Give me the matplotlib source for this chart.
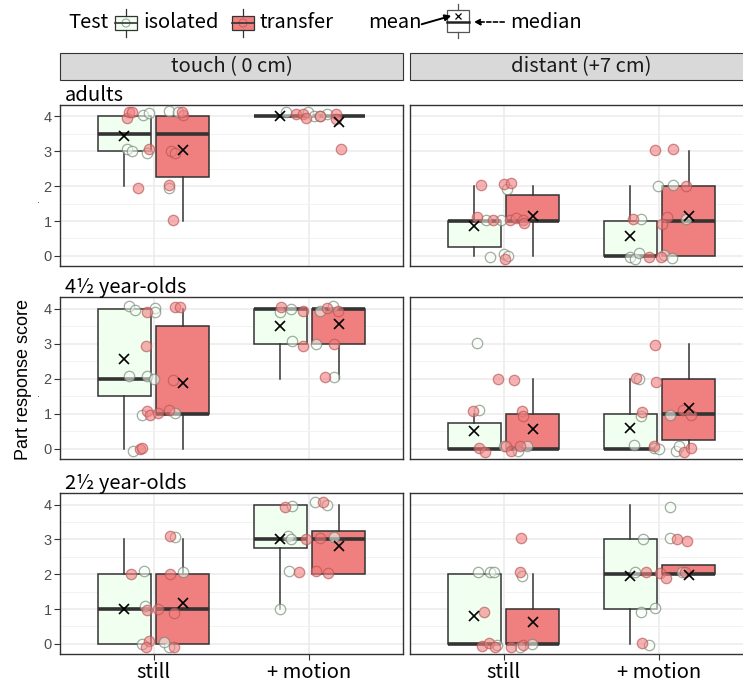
import matplotlib
matplotlib.use('Agg')
import matplotlib.pyplot as plt
from matplotlib.patches import Rectangle, Circle, FancyArrowPatch

# labels of the facets
rows = ['adults', '4½ year-olds', '2½ year-olds']
cols = ['touch ( 0 cm)', 'distant (+7 cm)']
cats = ['still', '+ motion']
tests = ['isolated', 'transfer']

# box statistics, order: row, column, category, test (24 boxes)
q1 = [3, 2.25, 4, 4,   0.25, 1, 0, 0,
      1.5, 1, 3, 3,    0, 0, 0, 0.25,
      0, 0, 2.75, 2,   0, 0, 1, 2]
med = [3.5, 3.5, 4, 4, 1, 1, 0, 1,
       2, 1, 4, 4,     0, 0, 0, 1,
       1, 1, 3, 3,     0, 0, 2, 2]
q3 = [4, 4, 4, 4,      1, 1.75, 1, 2,
      4, 3.5, 4, 4,    0.75, 1, 1, 2,
      2, 2, 4, 3.25,   2, 1, 3, 2.25]
whis_lo = [2, 1, 4, 4, 0, 0, 0, 0,
           0, 0, 2, 2, 0, 0, 0, 0,
           0, 0, 1, 2, 0, 0, 0, 2]
whis_hi = [4, 4, 4, 4, 2, 2, 2, 3,
           4, 4, 4, 4, 1, 2, 2, 3,
           3, 3, 4, 4, 2, 2, 4, 2.25]
means = [3.43, 3.05, 4.0, 3.85,  0.87, 1.15, 0.57, 1.15,
         2.55, 1.89, 3.49, 3.55, 0.51, 0.56, 0.59, 1.16,
         1.0, 1.16, 3.02, 2.8,   0.81, 0.62, 1.96, 1.98]

# individual scores (jitter, score), order: row, column, category (12 groups)
iso_points = [
    [(-0.065, 4.04), (-0.03, 4.1), (-0.17, 3.06), (-0.14, 3.0), (-0.04, 2.94), (0.10, 4.15), (0.16, 4.13), (0.10, 1.95)],
    [(-0.15, 4.13), (-0.01, 4.12), (0.03, 4.0), (0.11, 4.07), (0.07, 4.02)],
    [(0.02, 1.92), (-0.11, 1.02), (-0.017, 1.02), (-0.09, -0.02), (0.0, 0.06), (0.026, 0.0)],
    [(-0.01, 2.0), (0.086, 2.02), (-0.12, 1.06), (0.17, 1.06), (-0.19, -0.02), (-0.155, -0.1), (-0.13, 0.08), (0.03, 0.03), (0.08, -0.07)],
    [(-0.16, 4.08), (-0.12, 3.96), (0.01, 4.03), (0.01, 3.9), (-0.155, 2.08), (-0.04, 2.08), (0.0, 1.98), (-0.075, 0.96), (0.14, 1.01), (-0.13, -0.05)],
    [(-0.19, 3.89), (-0.12, 4.0), (-0.11, 3.08), (0.065, 3.93), (0.15, 4.08), (0.04, 3.0), (0.16, 2.05)],
    [(-0.17, 3.01), (-0.16, 1.1), (0.0, 0.07), (0.095, -0.05), (0.15, 0.07)],
    [(-0.13, 1.98), (-0.12, 0.93), (0.07, 0.96), (-0.165, 0.1), (-0.037, 0.02), (0.0, -0.01), (0.107, -0.05), (0.125, 0.09)],
    [(-0.06, 2.1), (-0.054, 1.08), (-0.075, 0.0), (0.097, -0.09), (0.14, 3.07), (0.19, 2.05), (0.065, 0.05)],
    [(-0.11, 3.96), (-0.14, 3.09), (-0.12, 3.02), (-0.13, 2.09), (-0.19, 0.99), (0.037, 4.06), (0.11, 3.98), (0.157, 3.07)],
    [(-0.163, 2.06), (-0.088, 2.06), (-0.06, 2.06), (0.116, 1.94), (-0.04, -0.03), (0.105, -0.1), (0.18, 0.01)],
    [(0.07, 3.93), (-0.107, 3.02), (0.065, 3.04), (-0.16, 2.06), (0.146, 2.07), (-0.116, 0.91), (-0.03, 1.02), (-0.065, -0.03)],
]
trn_points = [
    [(-0.17, 3.97), (-0.155, 4.12), (-0.14, 4.13), (-0.026, 3.08), (-0.10, 1.95), (0.11, 3.0), (0.14, 2.96), (0.10, 2.02), (0.125, 1.02), (0.19, 4.04), (0.18, 4.12)],
    [(-0.086, 4.08), (-0.04, 4.08), (-0.02, 3.97), (0.065, 4.0), (0.17, 4.07), (0.17, 3.94), (0.2, 3.08)],
    [(-0.146, 2.02), (0.0, 2.05), (0.047, 2.1), (-0.17, 1.12), (-0.067, 1.02), (0.04, 1.02), (0.077, 1.09), (0.127, 1.04), (0.133, 0.94), (0.01, -0.1)],
    [(-0.03, 3.03), (0.086, 3.08), (0.17, 2.0), (-0.17, 1.06), (0.05, 1.13), (0.017, 0.92), (-0.07, -0.02), (0.013, -0.04)],
    [(-0.04, 3.9), (-0.05, 2.94), (-0.04, 1.08), (-0.02, 0.96), (0.03, 1.01), (0.1, 1.1), (0.125, 1.97), (0.135, 4.05), (0.17, 4.05), (-0.09, 0.0), (-0.075, 0.02)],
    [(-0.18, 4.05), (-0.04, 3.92), (-0.04, 2.92), (0.11, 4.03), (0.18, 3.92), (0.16, 3.0), (0.1, 2.05)],
    [(-0.196, 1.07), (-0.034, 2.0), (0.07, 1.95), (0.12, 1.07), (0.127, 0.93), (-0.16, 0.02), (-0.12, -0.08), (0.013, 0.08), (0.047, -0.05), (0.105, 0.07)],
    [(-0.03, 2.96), (-0.15, 2.02), (-0.02, 1.92), (-0.11, 1.05), (0.15, 1.1), (0.2, 0.96), (-0.037, 0.09), (0.16, -0.09), (0.2, 0.02)],
    [(-0.146, 2.01), (-0.04, 0.96), (-0.03, 0.07), (-0.047, -0.09), (0.026, 1.01), (0.108, 2.0), (0.103, 3.09), (0.13, 0.9), (0.13, -0.08)],
    [(-0.16, 3.92), (-0.02, 3.02), (-0.07, 2.05), (0.07, 3.04), (0.086, 4.06), (0.043, 2.08), (0.12, 2.03)],
    [(0.11, 3.04), (0.105, 2.06), (-0.125, 0.91), (-0.137, -0.06), (-0.095, 0.04), (-0.056, -0.1), (0.047, -0.1), (0.127, -0.03)],
    [(0.114, 3.0), (0.178, 2.95), (-0.086, 2.07), (0.006, 2.04), (0.04, 1.89), (0.163, 2.06), (-0.11, 0.04)],
]

# figure layout in pixels
W, H = 743, 684
panel_x = [60, 410]
panel_w = 343
panel_y = [(105, 266), (297, 459), (493, 654)]

title_font = ['Noto Sans CJK JP', 'DejaVu Sans']
tick_font = ['Liberation Sans', 'DejaVu Sans']
edge = '#333333'
box_fill = ['#F0FFF0', '#F08080']
pt_face = [(0.96, 1.0, 0.96, 0.55), (0.94, 0.50, 0.50, 0.60)]
pt_edge = [(0.45, 0.50, 0.45, 0.65), (0.72, 0.32, 0.32, 0.65)]
points = [iso_points, trn_points]

fig = plt.figure(figsize=(W / 100, H / 100), dpi=100)

for r in range(3):
    for c in range(2):
        top, bot = panel_y[r]
        ax = fig.add_axes([panel_x[c] / W, 1 - bot / H, panel_w / W, (bot - top) / H])
        ax.set_xlim(0.4, 2.6)
        ax.set_ylim(-0.29, 4.33)
        ax.set_axisbelow(True)
        ax.set_xticks([1, 2])
        ax.set_yticks([0, 1, 2, 3, 4])
        ax.set_yticks([0.5, 1.5, 2.5, 3.5], minor=True)
        ax.grid(which='major', color='#EBEBEB', lw=1.1)
        ax.grid(which='minor', axis='y', color='#F2F2F2', lw=0.7)
        ax.tick_params(which='minor', length=0)
        for s in ax.spines.values():
            s.set_color(edge)
            s.set_linewidth(1.0)

        for k in range(2):
            g = (r * 2 + c) * 2 + k
            for t in range(2):
                i = g * 2 + t
                pos = k + 1 + (t - 0.5) * 0.375
                stats = dict(q1=q1[i], med=med[i], q3=q3[i], whislo=whis_lo[i],
                             whishi=whis_hi[i], fliers=[])
                ax.bxp([stats], positions=[pos], widths=0.3375, patch_artist=True,
                       showcaps=False, showfliers=False, manage_ticks=False,
                       boxprops=dict(facecolor=box_fill[t], edgecolor=edge, lw=1.1),
                       medianprops=dict(color=edge, lw=2.6, solid_capstyle='butt'),
                       whiskerprops=dict(color=edge, lw=1.1), zorder=2)
            for t in range(2):
                xs = [k + 1 + p[0] for p in points[t][g]]
                ys = [p[1] for p in points[t][g]]
                ax.scatter(xs, ys, s=56, facecolors=[pt_face[t]], edgecolors=[pt_edge[t]],
                           linewidths=0.9, zorder=3)
            for t in range(2):
                i = g * 2 + t
                pos = k + 1 + (t - 0.5) * 0.375
                ax.plot([pos], [means[i]], ls='none', marker='x', color='black',
                        ms=6.5, mew=1.2, zorder=4)

        if c == 0:
            ax.tick_params(axis='y', length=4, color=edge, labelsize=10.5,
                           labelcolor='#4D4D4D', pad=2)
            for lab in ax.get_yticklabels():
                lab.set_family(tick_font)
        else:
            ax.tick_params(axis='y', length=0, labelleft=False)
        if r == 2:
            ax.set_xticklabels(cats)
            ax.tick_params(axis='x', length=4, color=edge, labelsize=14.5,
                           labelcolor='black', pad=2)
            for lab in ax.get_xticklabels():
                lab.set_family(title_font)
        else:
            ax.tick_params(axis='x', length=0, labelbottom=False)

# overlay in pixel coordinates for strips, labels and legend
ov = fig.add_axes([0, 0, 1, 1])
ov.set_xlim(0, W)
ov.set_ylim(H, 0)
ov.axis('off')

for c in range(2):
    ov.add_patch(Rectangle((panel_x[c], 53), panel_w, 27, fc='#D9D9D9', ec=edge, lw=0.8))
    ov.text(panel_x[c] + panel_w / 2, 66.5, cols[c], ha='center', va='center',
            fontsize=14.5, family=title_font, color='#1A1A1A')

for r in range(3):
    ov.text(65, panel_y[r][0] - 4, rows[r], ha='left', va='baseline',
            fontsize=14.5, family=title_font, color='black')

ov.text(24, 380, 'Part response score', rotation=90, ha='center', va='center',
        fontsize=13, family=tick_font, color='black')
for yy in [200, 394]:
    ov.text(39, yy, '.', ha='center', va='center', fontsize=7, color='#555555')

# legend: Test isolated / transfer
ov.text(68, 23, 'Test', ha='left', va='center', fontsize=14.5, family=title_font)
glyph_x = [115, 232]
for t in range(2):
    x0 = glyph_x[t]
    ov.add_patch(Rectangle((x0, 16), 22, 14, fc=box_fill[t], ec=edge, lw=0.9))
    ov.plot([x0 + 11, x0 + 11], [9, 16], color=edge, lw=0.9)
    ov.plot([x0 + 11, x0 + 11], [30, 37], color=edge, lw=0.9)
    ov.plot([x0, x0 + 22], [23, 23], color=edge, lw=1.2)
    ov.add_patch(Circle((x0 + 11, 23), 4, fc=pt_face[t], ec=pt_edge[t], lw=0.8))
    ov.text(x0 + 28, 23, tests[t], ha='left', va='center', fontsize=14.5, family=title_font)

# legend: mean / median explanation
ov.text(368, 22, 'mean', ha='left', va='center', fontsize=14.5, family=title_font)
ov.add_patch(Rectangle((447, 10), 22, 22, fc='white', ec='#555555', lw=0.9))
ov.plot([458, 458], [4, 10], color='#555555', lw=0.9)
ov.plot([458, 458], [32, 38], color='#555555', lw=0.9)
ov.plot([447, 469], [22, 22], color='#222222', lw=1.8)
ov.plot([458], [15.5], ls='none', marker='x', color='black', ms=4.5, mew=0.9)
ov.add_patch(FancyArrowPatch((419, 25), (454, 15), arrowstyle='-|>', mutation_scale=9,
                             color='black', lw=1.4))
ov.add_patch(FancyArrowPatch((507, 22), (471, 22), arrowstyle='-|>', mutation_scale=9,
                             color='black', lw=1.2, linestyle=(0, (2.5, 1.5))))
ov.text(510, 22, 'median', ha='left', va='center', fontsize=14.5, family=title_font)

fig.savefig('out.png', dpi=100)
